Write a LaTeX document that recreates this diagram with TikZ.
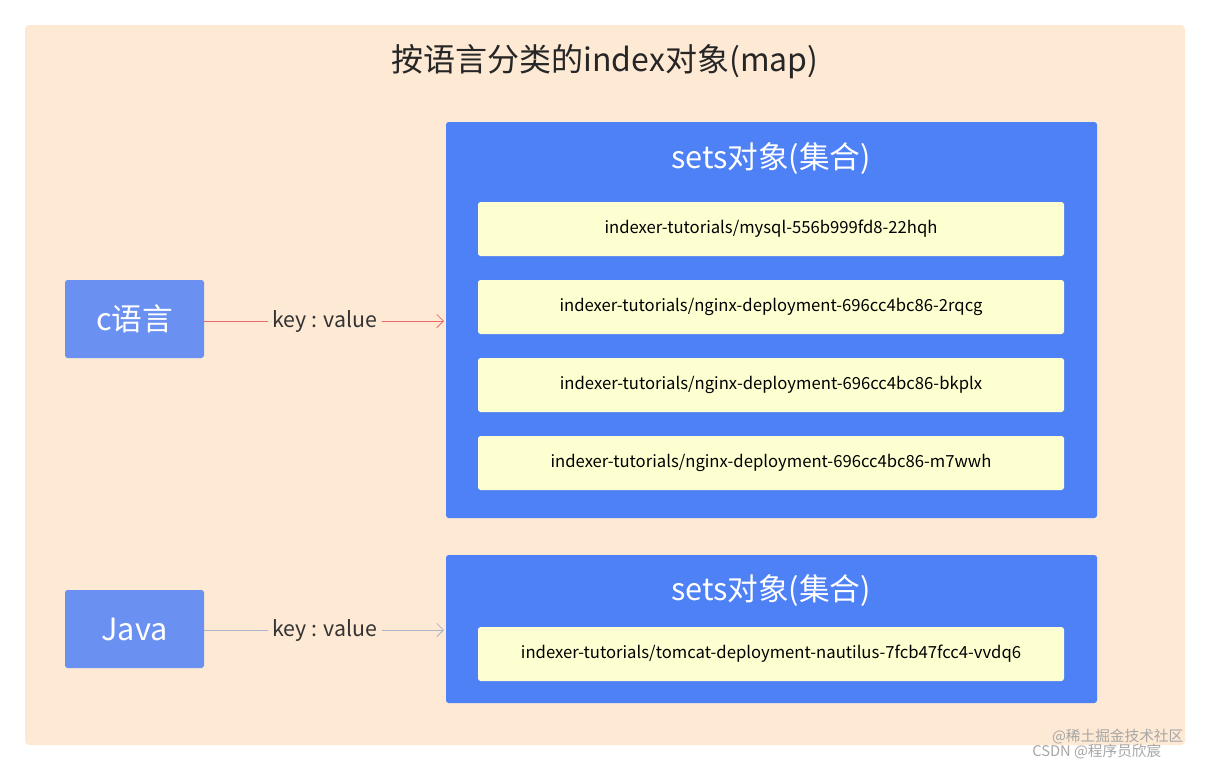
\documentclass[tikz,border=0pt]{standalone}
\usepackage{fontspec}
\setmainfont{Noto Sans CJK SC}
\usetikzlibrary{positioning,arrows.meta}
\definecolor{peach}{HTML}{FDE9D4}
\definecolor{setblue}{HTML}{4E81F6}
\definecolor{keyblue}{HTML}{6A90F2}
\definecolor{itemyellow}{HTML}{FEFFD0}
\definecolor{redline}{HTML}{EE6A6A}
\definecolor{grayline}{HTML}{A9B4C8}
\tikzset{
  setbox/.style={fill=setblue, rounded corners=2pt, draw=none},
  keybox/.style={fill=keyblue, rounded corners=2pt, minimum width=104.25pt, minimum height=58.5pt, text=white, font=\fontsize{23}{27}\selectfont},
  item/.style={fill=itemyellow, rounded corners=2pt, minimum width=439.5pt, minimum height=40.5pt, font=\fontsize{12.5}{15}\selectfont},
  kv/.style={font=\fontsize{16}{19}\selectfont, text=black!80},
  settitle/.style={text=white, font=\fontsize{23}{27}\selectfont}
}
\begin{document}
\begin{tikzpicture}[x=0.75pt, y=-0.75pt]
\useasboundingbox (0,0) rectangle (1209,769);
\fill[peach, rounded corners=3pt] (25,25) rectangle (1185,745);
\node[font=\fontsize{24}{29}\selectfont, text=black!85] (title) at (605,62) {按语言分类的index对象(map)};
% sets for c
\fill[setbox] (446,122) rectangle (1097,518);
\node[settitle] (set1) at (771,159) {sets对象(集合)};
\node[item] (i1) at (771,229) {indexer-tutorials/mysql-556b999fd8-22hqh};
\node[item] (i2) at (771,307) {indexer-tutorials/nginx-deployment-696cc4bc86-2rqcg};
\node[item] (i3) at (771,385) {indexer-tutorials/nginx-deployment-696cc4bc86-bkplx};
\node[item] (i4) at (771,463) {indexer-tutorials/nginx-deployment-696cc4bc86-m7wwh};
% sets for java
\fill[setbox] (446,555) rectangle (1097,703);
\node[settitle] (set2) at (771,591) {sets对象(集合)};
\node[item] (i5) at (771,654) {indexer-tutorials/tomcat-deployment-nautilus-7fcb47fcc4-vvdq6};
\coordinate (s1) at (444,321);
\coordinate (s2) at (444,630);
% keys
\node[keybox] (c) at (134.5,319) {c语言};
\node[keybox] (java) at (134.5,629) {Java};
\node[kv] (kv1) at (325,321) {key : value};
\node[kv] (kv2) at (325,630) {key : value};
\draw[redline, semithick] (c.east |- kv1) -- (kv1);
\draw[redline, semithick, -{Straight Barb[length=5pt]}] (kv1) -- (s1);
\draw[grayline, semithick] (java.east |- kv2) -- (kv2);
\draw[grayline, semithick, -{Straight Barb[length=5pt]}] (kv2) -- (s2);
% watermark
\node[text=black!35, font=\fontsize{11}{13}\selectfont, anchor=east] (wm1) at (1188,737) {@稀土掘金技术社区};
\node[text=black!35, font=\fontsize{11}{13}\selectfont, anchor=east] (wm2) at (1166,752) {CSDN @程序员欣宸};
\end{tikzpicture}
\end{document}
